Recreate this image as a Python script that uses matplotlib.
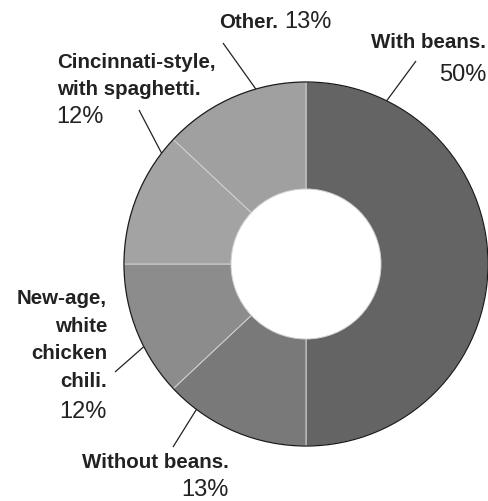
import numpy as np
import matplotlib
matplotlib.use("Agg")
import matplotlib.pyplot as plt
from matplotlib.patches import Circle

# data, clockwise from 12 o'clock
labels = ["With beans.", "Without beans.", "New-age,\nwhite\nchicken\nchili.",
          "Cincinnati-style,\nwith spaghetti.", "Other."]
shares = [50, 13, 12, 12, 13]
colors = ["#646464", "#797979", "#8c8c8c", "#a3a3a3", "#a0a0a0"]

BOLD = ["Liberation Sans Narrow", "Liberation Sans", "DejaVu Sans"]
REG = ["Liberation Sans", "DejaVu Sans"]
INK = "#222222"

fig = plt.figure(figsize=(4.89, 5.01), dpi=100)
ax = fig.add_axes([0, 0, 1, 1])

cx, cy, r = 306, 237, 182
ax.pie(shares, colors=colors, startangle=90, counterclock=False,
       center=(cx, cy), radius=r, frame=True,
       wedgeprops=dict(width=r - 75, edgecolor="#d2d2d2", linewidth=0.7))
ax.add_patch(Circle((cx, cy), r, fill=False, edgecolor="#1a1a1a", linewidth=0.9, zorder=5))
ax.set_xlim(0, 489)
ax.set_ylim(0, 501)
ax.set_aspect("equal")
ax.axis("off")

# leader lines: angle on the ring edge -> end point near the label
leaders = [(63.7, (416, 440)), (233, (173, 54)), (207, (115, 129)),
           (142.5, (139, 391)), (106, (223, 458))]
for ang, (ex, ey) in leaders:
    a = np.deg2rad(ang)
    ax.plot([cx + r * np.cos(a), ex], [cy + r * np.sin(a), ey],
            color=INK, lw=0.9, solid_capstyle="butt")

fb, fr = 14.8, 17
ls = 1.58
# With beans
ax.text(486, 459, labels[0], ha="right", va="center", fontsize=fb,
        fontweight="bold", family=BOLD, color=INK)
ax.text(486, 426, f"{shares[0]}%", ha="right", va="center", fontsize=fr,
        family=REG, color=INK)
# Other
ax.text(278, 479, labels[4], ha="right", va="center", fontsize=fb,
        fontweight="bold", family=BOLD, color=INK)
ax.text(284, 479, f"{shares[4]}%", ha="left", va="center", fontsize=fr,
        family=REG, color=INK)
# Cincinnati
ax.text(57, 425, labels[3], ha="left", va="center", fontsize=fb,
        fontweight="bold", family=BOLD, color=INK, linespacing=ls)
ax.text(56, 384, f"{shares[3]}%", ha="left", va="center", fontsize=fr,
        family=REG, color=INK)
# New-age
ax.text(107, 161, labels[2], ha="right", va="center", fontsize=fb,
        fontweight="bold", family=BOLD, color=INK, linespacing=ls)
ax.text(107, 89, f"{shares[2]}%", ha="right", va="center", fontsize=fr,
        family=REG, color=INK)
# Without beans
ax.text(229, 38, labels[1], ha="right", va="center", fontsize=fb,
        fontweight="bold", family=BOLD, color=INK)
ax.text(229, 11, f"{shares[1]}%", ha="right", va="center", fontsize=fr,
        family=REG, color=INK)

fig.savefig("out.png", dpi=100)
